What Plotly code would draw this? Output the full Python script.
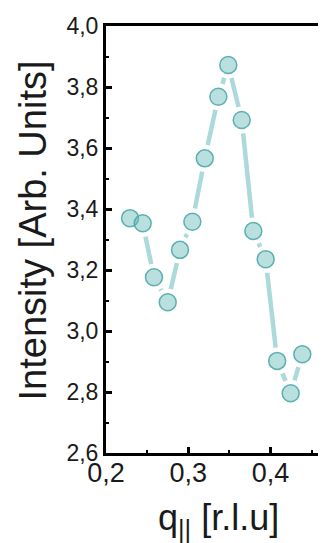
import plotly.graph_objects as go

# q_parallel [r.l.u]
q_values = [0.2292, 0.2446, 0.2583, 0.2750, 0.2899, 0.3049, 0.3200, 0.3365,
            0.3486, 0.3649, 0.3790, 0.3940, 0.4080, 0.4244, 0.4385]
# Intensity [Arb. Units]
intensity = [3.370, 3.353, 3.176, 3.094, 3.266, 3.358, 3.566, 3.768,
             3.872, 3.692, 3.328, 3.235, 2.902, 2.796, 2.924]

x_tickvals = [0.2, 0.3, 0.4]
x_ticktext = ["0,2", "0,3", "0,4"]
y_tickvals = [2.6, 2.8, 3.0, 3.2, 3.4, 3.6, 3.8, 4.0]
y_ticktext = ["2,6", "2,8", "3,0", "3,2", "3,4", "3,6", "3,8", "4,0"]

LINE_COL = "rgb(172,217,217)"
FILL_COL = "rgba(100,185,185,0.45)"
EDGE_COL = "rgba(60,160,160,0.8)"
FONT = "Liberation Sans, Arial, sans-serif"

fig = go.Figure()
fig.add_trace(go.Scatter(x=q_values, y=intensity, mode="lines",
                         line=dict(color=LINE_COL, width=4.5),
                         hoverinfo="skip", showlegend=False))
# white halos to create gaps between line and markers
fig.add_trace(go.Scatter(x=q_values, y=intensity, mode="markers",
                         marker=dict(size=27, color="white", line=dict(width=0)),
                         hoverinfo="skip", showlegend=False))
fig.add_trace(go.Scatter(x=q_values, y=intensity, mode="markers",
                         marker=dict(size=17, color=FILL_COL,
                                     line=dict(color=EDGE_COL, width=1.5)),
                         showlegend=False))
# dummy trace for right-hand tick axis
fig.add_trace(go.Scatter(x=[None], y=[None], yaxis="y2", mode="markers",
                         showlegend=False, hoverinfo="skip"))

fig.update_layout(
    width=318, height=535,
    margin=dict(l=98, r=0, t=18, b=90),
    paper_bgcolor="white", plot_bgcolor="white",
    font=dict(family=FONT, color="#1a1a1a"),
    xaxis=dict(range=[0.2, 0.4673], tickvals=x_tickvals, ticktext=x_ticktext,
               showgrid=False, zeroline=False,
               showline=True, linecolor="black", linewidth=3, mirror=True,
               ticks="inside", ticklen=6, tickwidth=2.5, tickcolor="black",
               ticklabelstandoff=-6,
               minor=dict(ticks="inside", ticklen=3, tickwidth=2, dtick=0.05,
                          tick0=0.2, tickcolor="black"),
               tickfont=dict(size=27, family=FONT, color="#1a1a1a")),
    yaxis=dict(range=[2.6, 4.0], tickvals=y_tickvals, ticktext=y_ticktext,
               showgrid=False, zeroline=False,
               showline=True, linecolor="black", linewidth=3, mirror=False,
               ticks="inside", ticklen=6, tickwidth=2.5, tickcolor="black",
               minor=dict(ticks="inside", ticklen=3, tickwidth=2, dtick=0.1,
                          tick0=2.6, tickcolor="black"),
               tickfont=dict(size=23, family=FONT, color="#1a1a1a")),
    yaxis2=dict(range=[2.6, 4.0], overlaying="y", side="right",
                anchor="free", position=1.0, tickvals=y_tickvals,
                showticklabels=False, showgrid=False, zeroline=False,
                showline=False, ticks="inside", ticklen=4, tickwidth=2.5,
                tickcolor="black"),
    annotations=[
        dict(text="Intensity [Arb. Units]", textangle=-90,
             xref="paper", yref="paper", x=-0.33, y=0.522,
             xanchor="center", yanchor="middle", showarrow=False,
             font=dict(size=38, family=FONT, color="#1a1a1a")),
        dict(text="q<sub>||</sub> [r.l.u]",
             xref="paper", yref="paper", x=0.512, y=-0.156,
             xanchor="center", yanchor="middle", showarrow=False,
             font=dict(size=36, family=FONT, color="#1a1a1a")),
    ],
)

fig.write_html("out.html")
